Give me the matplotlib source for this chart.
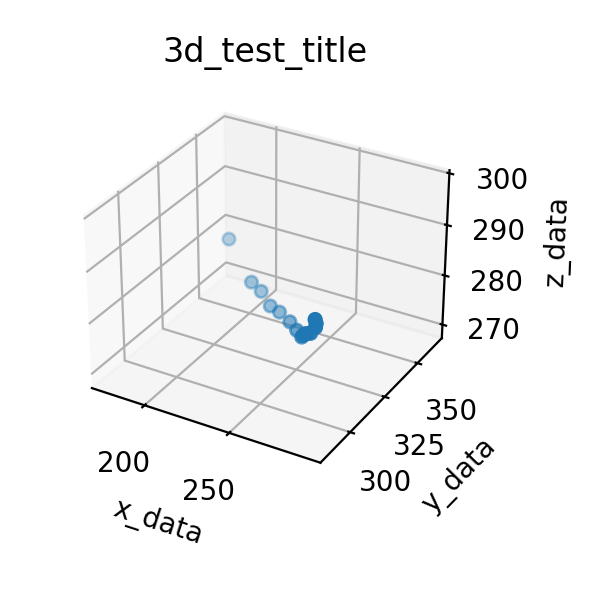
import matplotlib
matplotlib.use('agg')
import matplotlib.pyplot as plt

x_data = [173, 196, 203, 213, 220, 231, 241, 249, 251, 253, 256, 260, 266, 268, 269]
y_data = [366, 356, 355, 350, 348.5, 343, 336, 330, 328.5, 327.5, 325.5, 323, 319, 317, 315]
z_data = [276.2, 271.8, 270.8, 270, 269.8, 270.3, 271.4, 272.4, 273.3, 274.1, 275, 276.1, 278.9, 280.4, 281.8]

fig = plt.figure(figsize=(3, 3), dpi=200)
ax = fig.add_subplot(projection='3d')
ax.scatter(x_data, y_data, z_data)

ax.set_title('3d_test_title', pad=7)
ax.set_xlabel('x_data')
ax.set_ylabel('y_data')
ax.set_zlabel('z_data')

ax.set_xlim(167.9, 301.8)
ax.set_ylim(279.4, 369.4)
ax.set_zlim(267.2, 300.6)

ax.set_xticks([200, 250])
ax.set_yticks([300, 325, 350])
ax.set_zticks([270, 280, 290, 300])

ax.set_position([0.1, 0.186, 0.682, 0.678])
plt.savefig('out.png')
